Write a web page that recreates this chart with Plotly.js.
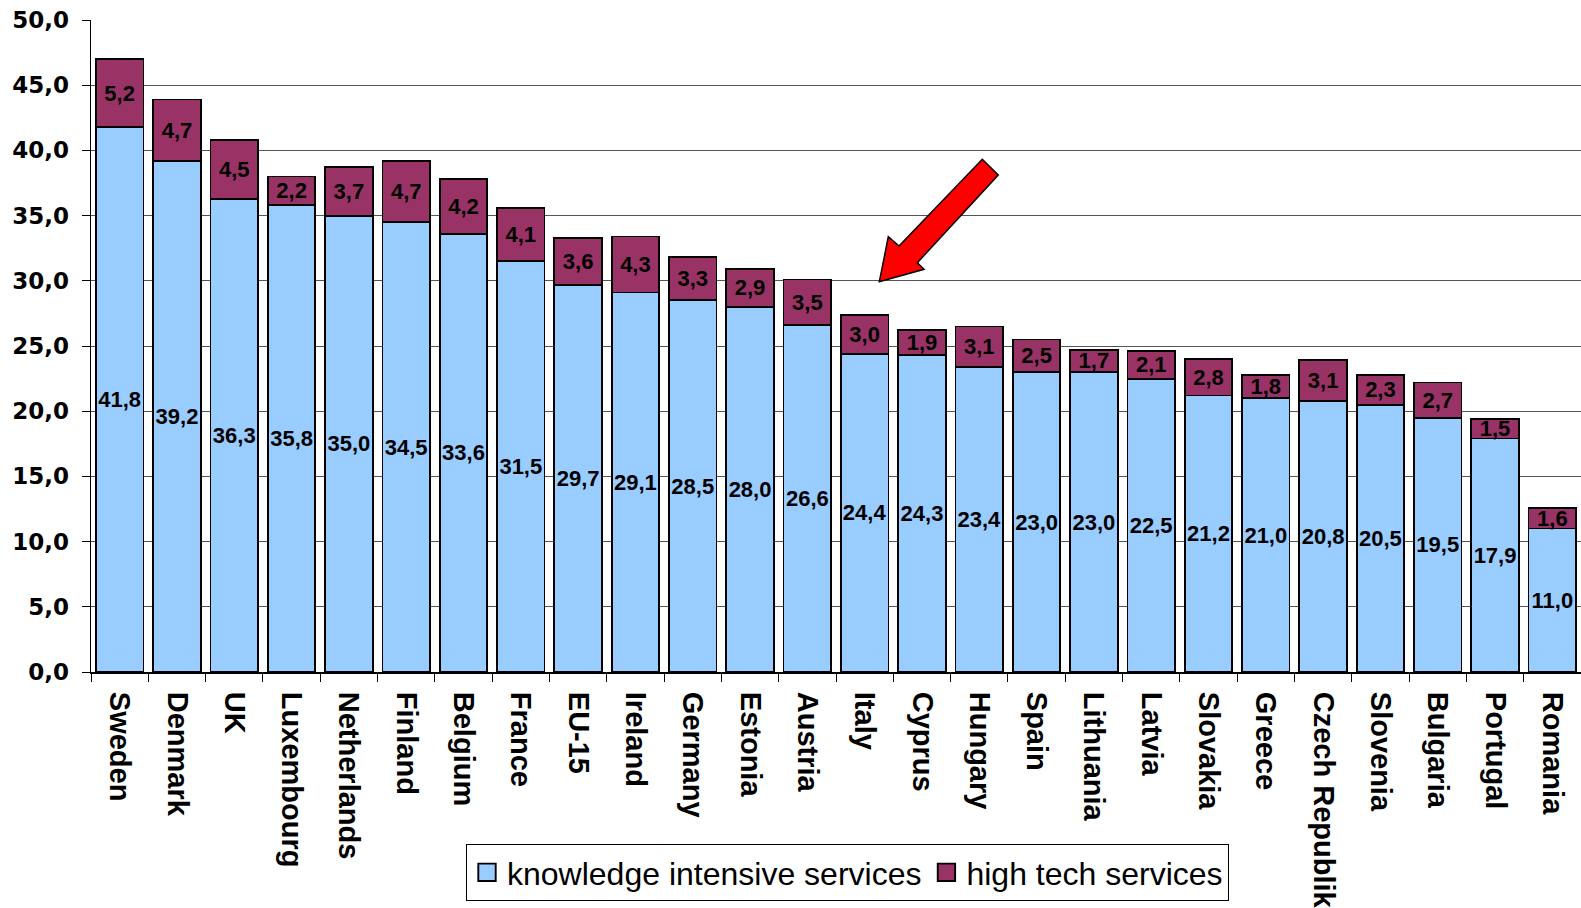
<!DOCTYPE html>
<html>
<head>
<meta charset="utf-8">
<script src="https://cdn.plot.ly/plotly-3.0.1.min.js"></script>
<style>
  html, body { margin: 0; padding: 0; background: #fff; }
  #chart { width: 1581px; height: 908px; }
</style>
</head>
<body>
<div id="chart"></div>
<script>
// ---- data ----
const countries = ["Sweden","Denmark","UK","Luxembourg","Netherlands","Finland","Belgium","France","EU-15","Ireland","Germany","Estonia","Austria","Italy","Cyprus","Hungary","Spain","Lithuania","Latvia","Slovakia","Greece","Czech Republik","Slovenia","Bulgaria","Portugal","Romania"];
const knowledgeIntensive = [41.8,39.2,36.3,35.8,35.0,34.5,33.6,31.5,29.7,29.1,28.5,28.0,26.6,24.4,24.3,23.4,23.0,23.0,22.5,21.2,21.0,20.8,20.5,19.5,17.9,11.0];
const highTech = [5.2,4.7,4.5,2.2,3.7,4.7,4.2,4.1,3.6,4.3,3.3,2.9,3.5,3.0,1.9,3.1,2.5,1.7,2.1,2.8,1.8,3.1,2.3,2.7,1.5,1.6];
const seriesNames = ["knowledge intensive services", "high tech services"];
const yTickVals = [0,5,10,15,20,25,30,35,40,45,50];

// ---- layout helpers ----
const W = 1581, H = 908;
const M = { l: 91, r: 0, t: 20, b: 236 };
const plotW = W - M.l - M.r, plotH = H - M.t - M.b;
function px2paper(x, y) { return [(x - M.l) / plotW, (H - M.b - y) / plotH]; }

// arrow outline in page pixels (decoration)
const arrowPx = [[879.3,281.7],[888.3,236.7],[899,246],[982.3,159.3],[998.3,175],[917.3,262.7],[924,269.3]];
const arrowPath = arrowPx.map((p, i) => {
  const q = px2paper(p[0], p[1]);
  return (i === 0 ? 'M' : 'L') + q[0].toFixed(4) + ',' + q[1].toFixed(4);
}).join(' ') + ' Z';

const fmt = v => v.toFixed(1).replace('.', ',');
const barTextFont = { family: 'Liberation Sans, Arial, sans-serif', size: 22, color: '#000', weight: 'bold' };

const traces = [
  {
    type: 'bar', name: seriesNames[0], x: countries, y: knowledgeIntensive,
    marker: { color: '#99CCFF', line: { color: '#000', width: 1.8 } },
    text: knowledgeIntensive.map(fmt), textposition: 'inside', insidetextanchor: 'middle',
    textangle: 0, constraintext: 'none', textfont: barTextFont, hoverinfo: 'none'
  },
  {
    type: 'bar', name: seriesNames[1], x: countries, y: highTech,
    marker: { color: '#993366', line: { color: '#000', width: 1.8 } },
    text: highTech.map(fmt), textposition: 'inside', insidetextanchor: 'middle',
    textangle: 0, constraintext: 'none', textfont: barTextFont, hoverinfo: 'none'
  }
];

const legendTop = px2paper(466, 844);

const layout = {
  width: W, height: H,
  margin: { l: M.l, r: M.r, t: M.t, b: M.b, autoexpand: false },
  paper_bgcolor: '#fff', plot_bgcolor: '#fff',
  barmode: 'stack', bargap: 0.17,
  separators: ',.',
  showlegend: true,
  legend: {
    orientation: 'h', x: legendTop[0], y: legendTop[1], xanchor: 'left', yanchor: 'top',
    bgcolor: '#fff', bordercolor: '#000', borderwidth: 1,
    font: { family: 'Liberation Sans, Arial, sans-serif', size: 32, color: '#000' },
    traceorder: 'normal', itemclick: false
  },
  xaxis: {
    type: 'category', tickangle: 90,
    tickfont: { family: 'Liberation Sans, Arial, sans-serif', size: 29, color: '#000', weight: 'bold' },
    ticks: 'outside', tickson: 'boundaries', ticklen: 8, tickcolor: '#000', tickwidth: 1,
    ticklabelstandoff: 12,
    showline: true, linecolor: '#000', linewidth: 2, showgrid: false, zeroline: false,
    automargin: false
  },
  yaxis: {
    range: [0, 50], tickvals: yTickVals, tickformat: '.1f',
    tickfont: { family: 'DejaVu Sans, sans-serif', size: 23, color: '#000', weight: 'bold' },
    ticks: 'outside', ticklen: 8, tickcolor: '#000', tickwidth: 1,
    ticklabelstandoff: 8,
    showline: true, linecolor: '#000', linewidth: 1.5,
    showgrid: true, gridcolor: '#555555', gridwidth: 1, zeroline: false,
    automargin: false, fixedrange: true
  },
  shapes: [
    { type: 'path', xref: 'paper', yref: 'paper', path: arrowPath,
      fillcolor: '#FF0000', line: { color: '#000', width: 1.5 }, layer: 'above' }
  ]
};

Plotly.newPlot('chart', traces, layout, { staticPlot: true, displayModeBar: false }).then(() => {
  // enlarge legend swatches to look like the reference's square keys
  document.querySelectorAll('.legend .legendpoints path').forEach(p => {
    const t = p.getAttribute('transform') || '';
    p.setAttribute('transform', t + ' scale(1.45)');
    p.style.strokeWidth = '1.3px';
  });
});
</script>
</body>
</html>
